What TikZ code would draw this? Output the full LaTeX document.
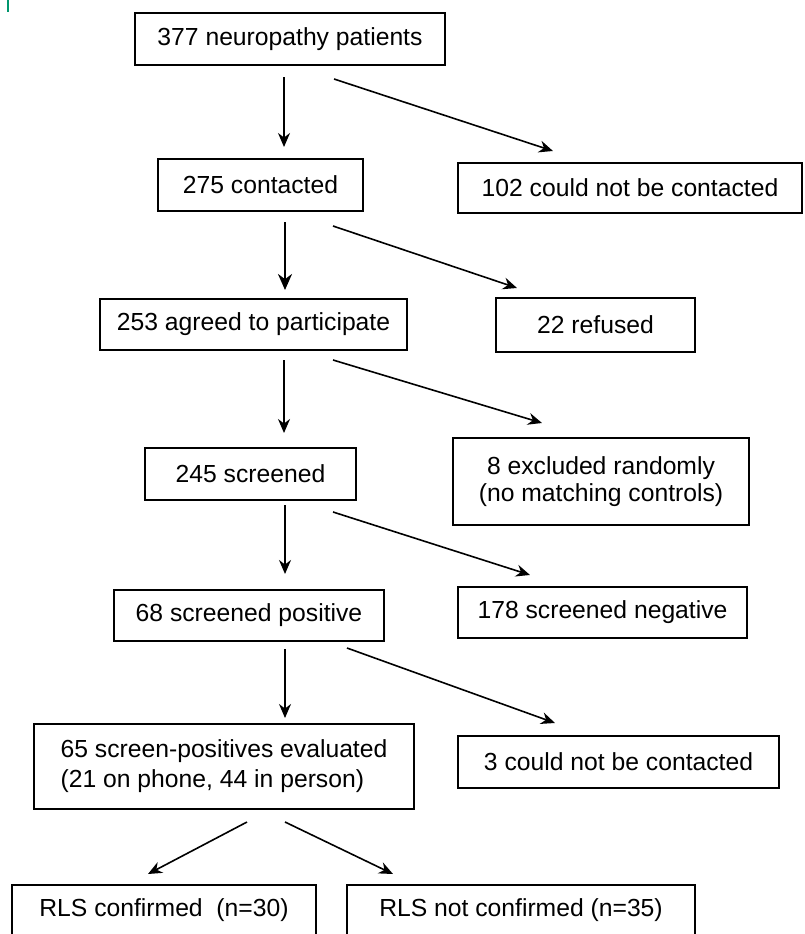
\documentclass[tikz,border=0pt]{standalone}
\usepackage{fontspec}
\setmainfont{Liberation Sans}
\usetikzlibrary{arrows.meta}
\definecolor{edgemark}{RGB}{0,150,110}

\begin{document}
\begin{tikzpicture}[x=1pt,y=-1pt,
  box/.style={draw,line width=1.6pt,inner sep=0pt,font=\fontsize{24.7}{30}\selectfont},
  arr/.style={line width=1.6pt,-{Stealth[length=14pt,width=12pt]}}]
  \useasboundingbox (0,0) rectangle (804,934);
  \clip (0,0) rectangle (804,934);
  \draw[edgemark,line width=1.5pt] (8,0) -- (8,12);
  % left column
  \node[box,minimum width=310pt,minimum height=52pt] (patients) at (290,39) {377 neuropathy patients};
  \node[box,minimum width=205pt,minimum height=52pt] (contacted) at (260.5,185) {275 contacted};
  \node[box,minimum width=307pt,minimum height=51pt] (agreed) at (253.5,324.5) {253 agreed to participate};
  \node[box,minimum width=211pt,minimum height=52pt] (screened) at (250.5,474) {245 screened};
  \node[box,minimum width=270pt,minimum height=51pt] (positive) at (249,615.5) {68 screened positive};
  \node[box,minimum width=380pt,minimum height=85pt,align=left] (evaluated) at (224,766.5)
    {65 screen-positives evaluated\\(21 on phone, 44 in person)};
  % right column
  \node[box,minimum width=344pt,minimum height=50pt] (notreached) at (630,188) {102 could not be contacted};
  \node[box,minimum width=199pt,minimum height=54pt] (refused) at (595.5,325) {22 refused};
  \node[box,minimum width=296pt,minimum height=87pt,align=center,
    font=\fontsize{24.7}{27.5}\selectfont] (excluded) at (601,481.5)
    {8 excluded randomly\\(no matching controls)};
  \node[box,minimum width=289pt,minimum height=51pt] (negative) at (602.5,612.5) {178 screened negative};
  \node[box,minimum width=321pt,minimum height=52pt] (lost) at (618.5,762) {3 could not be contacted};
  % bottom row
  \node[box,minimum width=304pt,minimum height=50pt] (confirmed) at (164,910) {RLS confirmed~~(n=30)};
  \node[box,minimum width=348pt,minimum height=50pt] (notconfirmed) at (521,910) {RLS not confirmed (n=35)};
  % arrow ends
  \coordinate (a1) at (284,77);  \coordinate (b1) at (284,147);
  \coordinate (c1) at (334,79);  \coordinate (d1) at (553,151);
  \coordinate (a2) at (285,222); \coordinate (b2) at (285,290);
  \coordinate (c2) at (333,226); \coordinate (d2) at (517,288);
  \coordinate (a3) at (284,360); \coordinate (b3) at (284,433);
  \coordinate (c3) at (333,360); \coordinate (d3) at (542,423);
  \coordinate (a4) at (285,505); \coordinate (b4) at (285,574);
  \coordinate (c4) at (333,512); \coordinate (d4) at (530,575);
  \coordinate (a5) at (285,649); \coordinate (b5) at (285,718);
  \coordinate (c5) at (347,648); \coordinate (d5) at (555,723);
  \coordinate (e6) at (247,822); \coordinate (f6) at (148,874);
  \coordinate (g6) at (285,822); \coordinate (h6) at (393,874);
  \draw[arr] (a1) -- (b1);
  \draw[arr] (c1) -- (d1);
  \draw[arr,line width=2.4pt,-{Stealth[length=16pt,width=14pt]}] (a2) -- (b2);
  \draw[arr] (c2) -- (d2);
  \draw[arr] (a3) -- (b3);
  \draw[arr] (c3) -- (d3);
  \draw[arr] (a4) -- (b4);
  \draw[arr] (c4) -- (d4);
  \draw[arr] (a5) -- (b5);
  \draw[arr] (c5) -- (d5);
  \draw[arr] (e6) -- (f6);
  \draw[arr] (g6) -- (h6);
\end{tikzpicture}
\end{document}
